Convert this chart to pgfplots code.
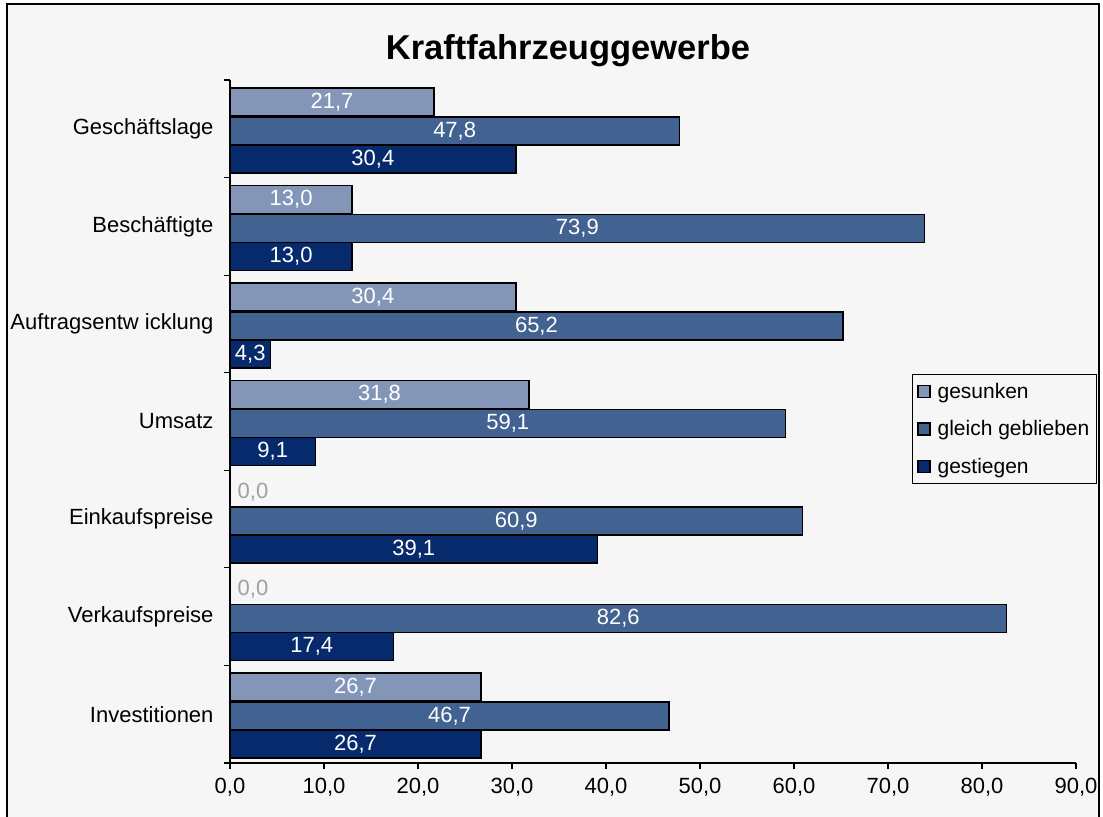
\documentclass[border=0pt]{standalone}
\usepackage{pgfplots}
\pgfplotsset{compat=1.18}
\usepackage{fontspec}
\setmainfont{Liberation Sans}
\definecolor{cA}{RGB}{132,150,184}
\definecolor{cB}{RGB}{66,98,145}
\definecolor{cC}{RGB}{6,42,107}
\definecolor{bg}{RGB}{246,246,246}
\definecolor{zg}{RGB}{160,160,160}
\newcommand\fs{\fontsize{22bp}{26bp}\selectfont}
\pgfkeys{/pgf/number format/.cd, use comma, fixed, fixed zerofill, precision=1, assume math mode=true}
\begin{document}
\begin{tikzpicture}[x=1bp,y=1bp]
\clip (0,0) rectangle (1103,817);
\fill[white] (0,0) rectangle (1103,817);
\filldraw[fill=bg, draw=black, line width=1.5bp] (7,-10) rectangle (1099,813);
\begin{axis}[
  at={(230bp,54bp)}, anchor=south west, scale only axis,
  width=846bp, height=683bp,
  xbar, bar width=28bp,
  xmin=0, xmax=90, ymin=-0.5, ymax=6.5,
  axis x line*=bottom, axis y line*=left,
  axis line style={line width=1.2bp, black, -},
  xtick={0,10,...,90},
  ytick={0,...,6},
  yticklabels={Investitionen, Verkaufspreise, Einkaufspreise, Umsatz, Auftragsentw icklung, Beschäftigte, Geschäftslage},
  minor ytick={-0.5,0.5,...,6.5},
  tick align=outside,
  major tick length=6bp, minor tick length=6bp,
  tick style={black, line width=1.2bp},
  major y tick style={draw=none},
  tick label style={font=\fs},
  yticklabel style={xshift=-7bp},
  xticklabel style={yshift=-6bp},
  clip=false,
  legend style={at={(0.806,0.5695)}, anchor=north west, draw=black, line width=1bp, fill=bg,
    font=\fontsize{21bp}{25bp}\selectfont, cells={anchor=west}, row sep=16.5bp, inner xsep=5bp, inner ysep=7bp, nodes={inner sep=2bp}},
  legend image code/.code={\draw[#1, line width=1.2bp] (0bp,-6bp) rectangle (12bp,6bp);},
  nodes near coords,
  visualization depends on={rawx \as \rawx},
  every node near coord/.append style={anchor=center, text=white, font=\fs, xshift={-4.7bp*\rawx}},
]
\addplot[fill=cA, draw=black, line width=1.5bp, bar shift=27bp] coordinates {
  (21.7,6) (13.0,5) (30.4,4) (31.8,3) (26.7,0)};
\addplot[fill=cB, draw=black, line width=1.5bp, bar shift=-2bp] coordinates {
  (47.8,6) (73.9,5) (65.2,4) (59.1,3) (60.9,2) (82.6,1) (46.7,0)};
\addplot[fill=cC, draw=black, line width=1.5bp, bar shift=-30bp] coordinates {
  (30.4,6) (13.0,5) (4.3,4) (9.1,3) (39.1,2) (17.4,1) (26.7,0)};
\addplot[draw=none, fill=none, bar shift=27bp, forget plot,
  every node near coord/.append style={text=zg, xshift=23bp}] coordinates {
  (0,2) (0,1)};
\legend{\hspace{5bp}gesunken, \hspace{5bp}gleich geblieben, \hspace{5bp}gestiegen}
\end{axis}
\node[font=\bfseries\fontsize{34.5bp}{40bp}\selectfont, anchor=base] at (568,757) {Kraftfahrzeuggewerbe};
\end{tikzpicture}
\end{document}
